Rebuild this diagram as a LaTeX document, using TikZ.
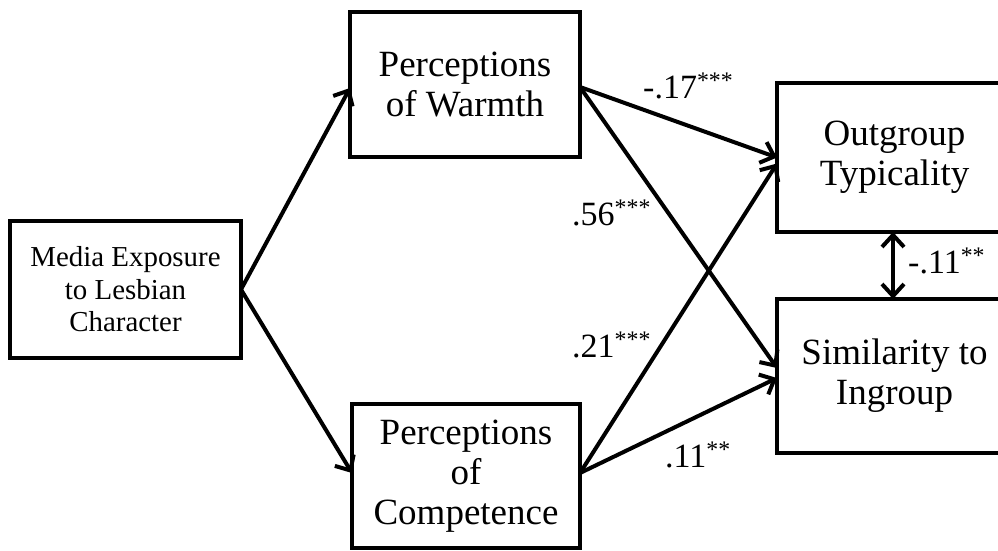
\documentclass[tikz,border=0pt]{standalone}
\usepackage{fontspec}
\setmainfont{Liberation Serif}
\usetikzlibrary{arrows.meta}
\begin{document}
\begin{tikzpicture}[x=1pt,y=-1pt,
  box/.style={draw=black,line width=4.5pt,fill=white,inner sep=0pt,outer sep=0pt,align=center,
    font=\fontsize{37}{40}\selectfont},
  smallbox/.style={box,font=\fontsize{28.9}{32.5}\selectfont},
  conn/.style={line width=4pt,-{Straight Barb[length=12pt,width=22pt,line width=4pt]}},
  biconn/.style={line width=4pt,{Straight Barb[length=12pt,width=22pt,line width=4pt]}-{Straight Barb[length=12pt,width=22pt,line width=4pt]}},
  lab/.style={anchor=base west,inner sep=0pt,font=\fontsize{34}{38}\selectfont}]
\useasboundingbox (0,0) rectangle (998,550);
\clip (0,0) rectangle (998,550);
\node[smallbox,minimum width=231pt,minimum height=137pt] (media) at (125.5,289.5)
  {Media Exposure\\to Lesbian\\Character};
\node[box,minimum width=230pt,minimum height=145pt] (warm) at (465,84.5)
  {Perceptions\\of Warmth};
\node[box,minimum width=228pt,minimum height=144pt] (comp) at (466,476)
  {Perceptions\\of\\Competence};
\node[box,minimum width=235pt,minimum height=149pt] (out) at (894.5,157.5)
  {Outgroup\\Typicality};
\node[box,minimum width=235pt,minimum height=154pt] (sim) at (894.5,376)
  {Similarity to\\Ingroup};
\draw[conn] (media.east) -- ([yshift=-3.5pt]warm.west);
\draw[conn] (media.east) -- ([yshift=3pt]comp.west);
\draw[conn] ([yshift=-2.5pt]warm.east) -- (out.west);
\draw[conn] ([yshift=-2.5pt]warm.east) -- ([yshift=8pt]sim.west);
\draw[conn] ([yshift=3pt]comp.east) -- ([yshift=-6pt]out.west);
\draw[conn] ([yshift=3pt]comp.east) -- ([yshift=-2pt]sim.west);
\draw[biconn] ([xshift=-1.5pt]out.south) -- ([xshift=-1.5pt]sim.north);
\node[lab] (l1) at (643,98) {-.17\textsuperscript{***}};
\node[lab] (l2) at (572,225) {.56\textsuperscript{***}};
\node[lab] (l3) at (572,357) {.21\textsuperscript{***}};
\node[lab] (l4) at (665,467) {.11\textsuperscript{**}};
\node[lab] (l5) at (908,273) {-.11\textsuperscript{**}};
\end{tikzpicture}
\end{document}
